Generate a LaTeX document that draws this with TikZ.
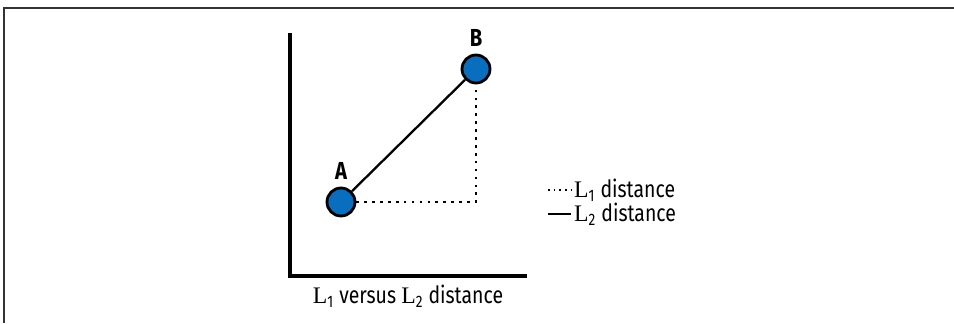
\documentclass[tikz,border=0pt]{standalone}
\usepackage{fontspec}
\setmainfont{Fira Sans}
\newfontfamily\condfont{Fira Sans}[FakeStretch=0.82]
\newfontfamily\serifL{Liberation Serif}
\newcommand{\Lsub}[1]{{\serifL L}\textsubscript{#1}}
\usetikzlibrary{positioning}
\definecolor{pointblue}{RGB}{10,110,190}
\begin{document}
\begin{tikzpicture}[
  point/.style={circle, draw=black, line width=1.6pt, fill=pointblue, minimum size=0.56cm, inner sep=0pt},
  ptlabel/.style={font=\bfseries\condfont\fontsize{14}{16}\selectfont, inner sep=1pt},
  axis/.style={line width=2.4pt},
  dots/.style={line width=1.5pt, dash pattern=on 1.5pt off 3pt},
  legtext/.style={font=\condfont\fontsize{13.5}{15}\selectfont, anchor=west, inner sep=1pt},
  ]
 \useasboundingbox (0,0) rectangle (19.08,6.46);
 % frame
 \draw[line width=0.8pt, black!80] (0.08,0) -- (0.08,6.3) -- (19.08,6.3);
 % axes
 \coordinate (ytop) at (5.8,5.8);
 \coordinate (orig) at (5.8,0.94);
 \coordinate (xend) at (10.54,0.94);
 \draw[axis] (ytop) -- (orig) -- (xend);
 % points
 \node [point] (a) at (6.82,2.42) {};
 \node [point] (b) at (9.52,5.08) {};
 \node [ptlabel, above=0.1cm of a] (alab) {A};
 \node [ptlabel, above=0.1cm of b] (blab) {B};
 \coordinate (corner) at (b |- a);
 \draw[line width=1.3pt] (a) -- (b);
 \draw[dots] (a) -- (corner) -- (b);
 % legend
 \coordinate (l1s) at (10.96,2.66);
 \coordinate (l1e) at (11.42,2.66);
 \coordinate (l2s) at (10.96,2.18);
 \coordinate (l2e) at (11.42,2.18);
 \draw[line width=1.1pt, dash pattern=on 1pt off 2.2pt] (l1s) -- (l1e);
 \draw[line width=1.7pt] (l2s) -- (l2e);
 \node [legtext, right=0.02cm of l1e] (l1txt) {\Lsub{1} distance};
 \node [legtext, right=0.02cm of l2e] (l2txt) {\Lsub{2} distance};
 % caption
 \node [font=\condfont\fontsize{13.5}{15}\selectfont] (cap) at (8.16,0.54) {\Lsub{1} versus \Lsub{2} distance};
\end{tikzpicture}
\end{document}
